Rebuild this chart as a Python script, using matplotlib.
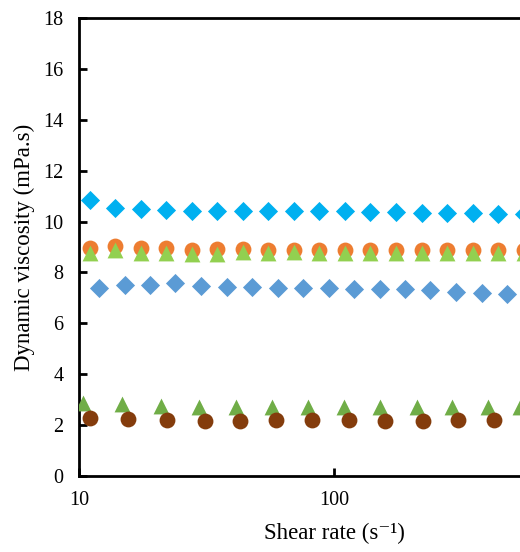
"""Dynamic viscosity vs shear rate (Excel-style scatter, log x)."""

import matplotlib as mpl
import matplotlib.pyplot as plt

# shear rate values (s^-1)
x_a = [11.0, 13.9, 17.5, 22.0, 27.7, 34.9, 43.9, 55.3, 69.6, 87.6,
       110, 139, 175, 221, 278, 350, 440, 554]
x_b = [12.0, 15.1, 19.0, 23.9, 30.1, 37.9, 47.7, 60.1, 75.6, 95.2,
       120, 151, 190, 239, 301, 379, 477]
x_c = [10.4, 14.8, 21.0, 29.6, 41.3, 57.2, 79.1, 109, 151, 211, 290, 402, 536]
x_d = [11.0, 15.6, 22.1, 31.2, 42.8, 59.3, 82.1, 115, 158, 223, 306, 424]

# dynamic viscosity (mPa.s)
cyan_diamond = [10.85, 10.55, 10.5, 10.45, 10.4, 10.4, 10.4, 10.4, 10.4,
                10.4, 10.4, 10.37, 10.37, 10.35, 10.33, 10.33, 10.3, 10.3]
orange_circle = [8.97, 9.03, 8.95, 8.97, 8.88, 8.92, 8.93, 8.88, 8.88,
                 8.88, 8.88, 8.88, 8.88, 8.88, 8.88, 8.88, 8.88, 8.88]
lime_triangle = [8.78, 8.88, 8.78, 8.78, 8.72, 8.74, 8.8, 8.78, 8.8,
                 8.78, 8.78, 8.78, 8.78, 8.78, 8.78, 8.78, 8.78, 8.78]
blue_diamond = [7.38, 7.5, 7.5, 7.6, 7.45, 7.44, 7.44, 7.4, 7.38, 7.38,
                7.36, 7.35, 7.33, 7.3, 7.25, 7.2, 7.17]
green_triangle = [2.88, 2.82, 2.77, 2.72, 2.72, 2.72, 2.72, 2.72, 2.72,
                  2.72, 2.72, 2.72, 2.72]
brown_circle = [2.27, 2.23, 2.2, 2.17, 2.18, 2.2, 2.2, 2.2, 2.18, 2.18,
                2.2, 2.2]

y_ticks = [0, 2, 4, 6, 8, 10, 12, 14, 16, 18]
x_ticks = [10, 100]
x_tick_labels = ["10", "100"]

mpl.rcParams.update({
    "font.family": ["Liberation Serif", "DejaVu Serif"],
    "font.size": 14.5,
})

fig = plt.figure(figsize=(5.2, 5.52), dpi=100)
# axes run past the right edge of the picture (original chart was cropped)
ax = fig.add_axes([79 / 520, 76 / 552, 510 / 520, 458 / 552])

ax.scatter(x_a, cyan_diamond, marker="D", s=95, color="#00B0F0", linewidths=0, zorder=3)
ax.scatter(x_a, orange_circle, marker="o", s=130, color="#ED7D31", linewidths=0, zorder=3)
ax.scatter(x_a, lime_triangle, marker="^", s=130, color="#92D050", linewidths=0, zorder=4)
ax.scatter(x_b, blue_diamond, marker="D", s=95, color="#5B9BD5", linewidths=0, zorder=3)
ax.scatter(x_c, green_triangle, marker="^", s=130, color="#70AD47", linewidths=0, zorder=3)
ax.scatter(x_d, brown_circle, marker="o", s=130, color="#843C0C", linewidths=0, zorder=4)

ax.set_xscale("log")
ax.set_xlim(10, 1000)
ax.set_ylim(0, 18)
ax.set_yticks(y_ticks)
ax.set_xticks(x_ticks)
ax.set_xticklabels(x_tick_labels)
ax.minorticks_off()

for side in ["left", "bottom", "top", "right"]:
    ax.spines[side].set_linewidth(2)
    ax.spines[side].set_color("black")

ax.tick_params(axis="y", direction="in", length=6, width=2, pad=11)
ax.tick_params(axis="x", direction="in", length=6, width=2, pad=11)

ax.set_xlabel("Shear rate (s⁻¹)", fontsize=16.5, labelpad=9)
ax.set_ylabel("Dynamic viscosity (mPa.s)", fontsize=16.5, labelpad=6)

fig.savefig("out.png", dpi=100)
